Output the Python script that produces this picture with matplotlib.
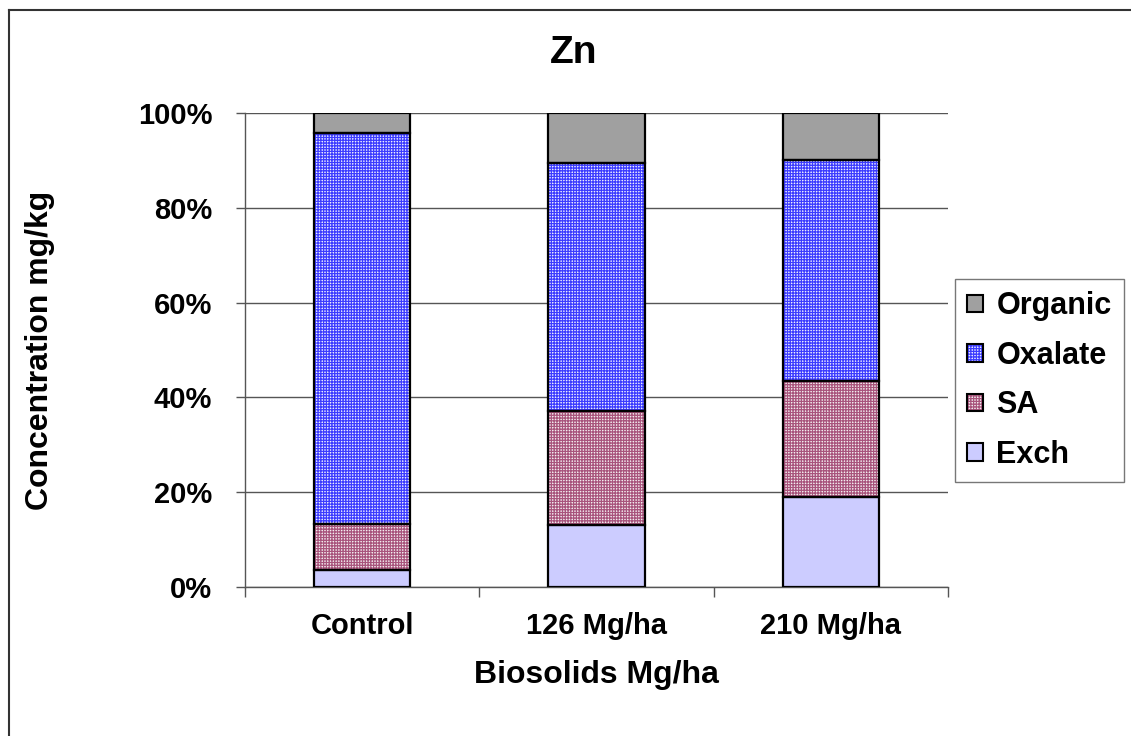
import numpy as np
import matplotlib.pyplot as plt
from matplotlib.patches import Patch
from matplotlib.lines import Line2D
from matplotlib.ticker import PercentFormatter

# Zn fractions (% of total) per biosolids rate
categories = ['Control', '126 Mg/ha', '210 Mg/ha']
exch = [3.5, 13.0, 19.0]
sa = [9.7, 24.1, 24.5]
oxalate = [82.6, 52.4, 46.6]
organic = [4.2, 10.5, 9.9]

plt.rcParams['font.family'] = ['Liberation Sans', 'DejaVu Sans']
plt.rcParams['font.weight'] = 'bold'
plt.rcParams['hatch.linewidth'] = 0.9

fig = plt.figure(figsize=(11.31, 7.36), dpi=100)
ax = fig.add_axes([245/1131, 1-587/736, 703/1131, 474/736])

# (label, values, face, hatch, hatch colour)
layers = [
    ('Exch', exch, '#ccccff', None, '#ccccff'),
    ('SA', sa, '#f4eef0', '++++++', '#a8547c'),
    ('Oxalate', oxalate, '#eeeeff', '++++++', '#3c3cff'),
    ('Organic', organic, '#a0a0a0', None, '#a0a0a0'),
]

x = np.arange(len(categories))
w = 0.41
bottom = np.zeros(len(categories))
handles = {}
for name, vals, fc, hatch, hc in layers:
    vals = np.array(vals)
    ax.bar(x, vals, w, bottom=bottom, color=fc, hatch=hatch, edgecolor=hc,
           linewidth=0, zorder=2)
    ax.bar(x, vals, w, bottom=bottom, fill=False, edgecolor='black',
           linewidth=1.6, zorder=3)
    bottom += vals
    handles[name] = (Patch(facecolor=fc, hatch=hatch, edgecolor=hc, linewidth=0),
                     Patch(fill=False, edgecolor='black', linewidth=1.5))

ax.set_xlim(-0.5, 2.5)
ax.set_ylim(0, 100)
ax.yaxis.set_major_locator(plt.MultipleLocator(20))
ax.yaxis.set_major_formatter(PercentFormatter(decimals=0))
ax.grid(axis='y', color='#555555', linewidth=1, zorder=0)
ax.set_axisbelow(True)

ax.set_xticks(x)
ax.set_xticklabels(categories)
ax.set_xticks([-0.5, 0.5, 1.5, 2.5], minor=True)
ax.tick_params(axis='x', which='major', length=0, pad=18, labelsize=21)
ax.tick_params(axis='x', which='minor', length=7, width=1, color='#555555')
ax.tick_params(axis='y', length=6.5, width=1, color='#555555', labelsize=21, pad=17)

for s in ['top', 'right']:
    ax.spines[s].set_visible(False)
for s in ['left', 'bottom']:
    ax.spines[s].set_color('#555555')
    ax.spines[s].set_linewidth(1)

ax.set_xlabel('Biosolids Mg/ha', fontsize=23, fontweight='bold', va='center')
ax.xaxis.set_label_coords(0.5, -0.186)
ax.set_ylabel('Concentration mg/kg', fontsize=23, fontweight='bold', va='center')
ax.yaxis.set_label_coords(-0.292, 0.5)
fig.text(0.507, 1-53/736, 'Zn', fontsize=28, fontweight='bold',
         ha='center', va='center')

order = ['Organic', 'Oxalate', 'SA', 'Exch']
leg = fig.legend([handles[n] for n in order], order,
                 loc='upper left', bbox_to_anchor=(955/1131, 1-279/736),
                 fontsize=22, frameon=True, fancybox=False,
                 handlelength=0.5, handleheight=0.5, handletextpad=0.45,
                 labelspacing=0.64, borderpad=0.4, borderaxespad=0)
leg.get_frame().set_edgecolor('#555555')
leg.get_frame().set_linewidth(1)

# outer chart frame
fig.add_artist(Line2D([9/1131, 9/1131], [0, 1-10/736], color='#333333', linewidth=1.5))
fig.add_artist(Line2D([9/1131, 1], [1-10/736, 1-10/736], color='#333333', linewidth=1.5))

fig.savefig('out.png', dpi=100)
